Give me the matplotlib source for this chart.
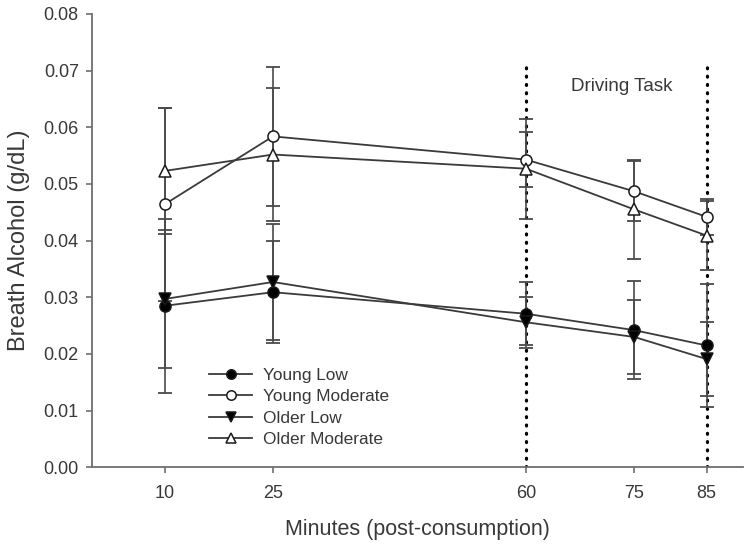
import matplotlib
matplotlib.use("Agg")
import matplotlib.pyplot as plt

plt.rcParams['font.family'] = ['Liberation Sans', 'DejaVu Sans']

minutes = [10, 25, 60, 75, 85]
x_ticks = [10, 25, 60, 75, 85]
y_ticks = [0.00, 0.01, 0.02, 0.03, 0.04, 0.05, 0.06, 0.07, 0.08]

young_low = [0.0285, 0.0309, 0.0271, 0.0242, 0.0215]
young_low_err = [0.0154, 0.0090, 0.0056, 0.0087, 0.0109]
young_mod = [0.0464, 0.0584, 0.0543, 0.0487, 0.0442]
young_mod_err = [0.0170, 0.0123, 0.0048, 0.0053, 0.0032]
older_low = [0.0297, 0.0327, 0.0256, 0.0230, 0.0191]
older_low_err = [0.0122, 0.0103, 0.0045, 0.0066, 0.0065]
older_mod = [0.0523, 0.0552, 0.0527, 0.0455, 0.0409]
older_mod_err = [0.0111, 0.0118, 0.0088, 0.0087, 0.0061]

series_names = ["Young Low", "Young Moderate", "Older Low", "Older Moderate"]
driving_lines = [60, 85]
driving_top = 0.071
driving_label = "Driving Task"

fig = plt.figure(figsize=(7.5, 5.51), dpi=100)
ax = fig.add_axes([92.3/750, 1 - 467.3/551, (742.7-92.3)/750, (467.3-14)/551])

line_col = '#3a3a3a'
err_col = '#4a4a4a'

# driving task dotted lines
for xv in driving_lines:
    ax.plot([xv, xv], [0, driving_top], color='black', lw=2.3,
            linestyle=(0, (0.3, 2.3)), dash_capstyle='round', zorder=1)

styles = [
    (young_low, young_low_err, 'o', 'black', 8),
    (young_mod, young_mod_err, 'o', 'white', 8),
    (older_low, older_low_err, 'v', 'black', 8),
    (older_mod, older_mod_err, '^', 'white', 8),
]
handles = []
for (vals, errs, mk, fc, ms), name in zip(styles, series_names):
    ax.errorbar(minutes, vals, yerr=errs, fmt='none', ecolor=err_col,
                elinewidth=1.2, capsize=4.7, capthick=1.3, zorder=2)
    h, = ax.plot(minutes, vals, color=line_col, lw=1.3, marker=mk,
                 markersize=ms, markerfacecolor=fc, markeredgecolor='#1a1a1a',
                 markeredgewidth=1.1, zorder=3, label=name)
    handles.append(h)

ax.text(73.3, 0.0672, driving_label, ha='center', va='center',
        fontsize=13.5, color='#383838')

ax.set_xlim(0, 90)
ax.set_ylim(0, 0.08)
ax.set_xticks(x_ticks)
ax.set_xticklabels([str(t) for t in x_ticks])
ax.set_yticks(y_ticks)
ax.set_yticklabels([f"{t:.2f}" for t in y_ticks])

for s in ['top', 'right']:
    ax.spines[s].set_visible(False)
for s in ['left', 'bottom']:
    ax.spines[s].set_color('#6e6e6e')
    ax.spines[s].set_linewidth(1.3)

ax.tick_params(axis='both', direction='out', length=4.2, width=1.2,
               colors='#6e6e6e', labelcolor='#383838', labelsize=13)
ax.tick_params(axis='x', pad=8.5)
ax.tick_params(axis='y', pad=5.5)

ax.set_xlabel("Minutes (post-consumption)", fontsize=15.5, color='#383838')
ax.set_ylabel("Breath Alcohol (g/dL)", fontsize=17, color='#383838')
ax.xaxis.set_label_coords(0.5, (467.3-530)/453.3)
ax.xaxis.label.set_va('center')
ax.yaxis.set_label_coords((19-92.3)/650.4, 0.5)
ax.yaxis.label.set_va('center')

leg = fig.legend(handles=handles, labels=series_names, loc='center left',
                 bbox_to_anchor=(209/750, 1 - 407.5/551), frameon=False,
                 fontsize=12.4, handlelength=2.5, handletextpad=0.65,
                 labelspacing=0.36, borderpad=0, borderaxespad=0,
                 markerscale=0.85)
for t in leg.get_texts():
    t.set_color('#383838')

fig.savefig("out.png", dpi=100)
